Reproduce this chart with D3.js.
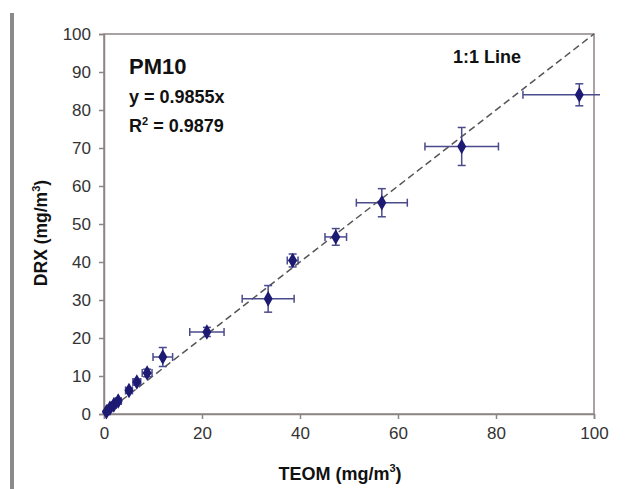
<!DOCTYPE html>
<html>
<head>
<meta charset="utf-8">
<script src="https://cdn.jsdelivr.net/npm/d3@7"></script>
<style>
  body { margin: 0; background: #fff; }
  text { font-family: "Liberation Sans", Arial, sans-serif; }
</style>
</head>
<body>
<svg id="chart"></svg>
<script>
// data (TEOM vs DRX, PM10)
const teom    = [0.5, 1.2, 2.0, 2.9, 5.1, 6.7, 8.8, 12.0, 21.0, 33.5, 38.5, 47.3, 56.7, 73.0, 97.0]
const drx     = [0.6, 1.5, 2.4, 3.4, 6.2, 8.4, 10.8, 15.0, 21.6, 30.3, 40.4, 46.6, 55.6, 70.4, 84.0]
const teomErr = [0.3, 0.4, 0.5, 0.6, 0.7, 0.8, 1.0, 2.0, 3.5, 5.3, 1.1, 2.2, 5.2, 7.5, 11.5]
const drxErr  = [0.3, 0.4, 0.5, 0.6, 0.7, 0.8, 1.0, 2.5, 1.2, 3.5, 1.7, 2.2, 3.7, 5.0, 2.9]
const ticks = [0, 10, 20, 30, 40, 50, 60, 70, 80, 90, 100]
const xTicks = [0, 20, 40, 60, 80, 100]

const width = 628, height = 489
const margin = {top: 34, bottom: 75, left: 104, right: 34}

const svg = d3.select('#chart')
  .attr('width', width)
  .attr('height', height)

// grey bar at the far left of the scan
svg.append('rect')
  .attr('x', 10).attr('y', 13)
  .attr('width', 4).attr('height', height - 13)
  .attr('fill', '#8a8a8a')

const xScale = d3.scaleLinear()
  .domain([0, 100])
  .range([margin.left, width - margin.right])
const yScale = d3.scaleLinear()
  .domain([0, 100])
  .range([height - margin.bottom, margin.top])

const axisColor = '#8c8584'

// frame
svg.append('rect')
  .attr('x', xScale(0)).attr('y', yScale(100))
  .attr('width', xScale(100) - xScale(0))
  .attr('height', yScale(0) - yScale(100))
  .attr('fill', 'none')
  .attr('stroke', axisColor)
  .attr('stroke-width', 1.5)

const xAxis = d3.axisBottom(xScale).tickValues(xTicks).tickSize(5).tickPadding(8)
const yAxis = d3.axisLeft(yScale).tickValues(ticks).tickSize(5).tickPadding(8)

const gx = svg.append('g')
  .attr('transform', `translate(0, ${yScale(0)})`)
  .call(xAxis)
const gy = svg.append('g')
  .attr('transform', `translate(${xScale(0)}, 0)`)
  .call(yAxis)

;[gx, gy].forEach(g => {
  g.select('.domain').attr('stroke', axisColor).attr('stroke-width', 1.5)
  g.selectAll('.tick line').attr('stroke', axisColor).attr('stroke-width', 1.5)
  g.selectAll('.tick text')
    .attr('fill', '#333')
    .style('font-size', '17px')
    .style('font-family', '"Liberation Sans", Arial, sans-serif')
})

// 1:1 line
svg.append('line')
  .attr('x1', xScale(0)).attr('y1', yScale(0))
  .attr('x2', xScale(100)).attr('y2', yScale(100))
  .attr('stroke', '#555')
  .attr('stroke-width', 1.5)
  .attr('stroke-dasharray', '7,4')

const pts = teom.map((t, i) => ({x: t, y: drx[i], ex: teomErr[i], ey: drxErr[i]}))

const errColor = '#4b4a8c'
const clipRight = 600
const cap = 4

const eb = svg.append('g')
pts.forEach(p => {
  const x0 = xScale(p.x - p.ex), x1 = xScale(p.x + p.ex)
  const y0 = yScale(p.y - p.ey), y1 = yScale(p.y + p.ey)
  const cx = xScale(p.x), cy = yScale(p.y)
  const xr = Math.min(x1, clipRight)
  eb.append('line').attr('x1', x0).attr('x2', xr).attr('y1', cy).attr('y2', cy)
  eb.append('line').attr('x1', cx).attr('x2', cx).attr('y1', y0).attr('y2', y1)
  eb.append('line').attr('x1', x0).attr('x2', x0).attr('y1', cy - cap).attr('y2', cy + cap)
  if (x1 <= clipRight)
    eb.append('line').attr('x1', x1).attr('x2', x1).attr('y1', cy - cap).attr('y2', cy + cap)
  eb.append('line').attr('x1', cx - cap).attr('x2', cx + cap).attr('y1', y0).attr('y2', y0)
  eb.append('line').attr('x1', cx - cap).attr('x2', cx + cap).attr('y1', y1).attr('y2', y1)
})
eb.selectAll('line').attr('stroke', errColor).attr('stroke-width', 1.5)

svg.append('g').selectAll('path')
  .data(pts)
  .enter().append('path')
    .attr('d', d3.symbol(d3.symbolDiamond, 70))
    .attr('transform', d => `translate(${xScale(d.x)}, ${yScale(d.y)})`)
    .attr('fill', '#1c1a72')

// annotations
svg.append('text')
  .attr('x', 129).attr('y', 74)
  .style('font-size', '22px').style('font-weight', 'bold')
  .attr('fill', '#111')
  .text('PM10')
svg.append('text')
  .attr('x', 129).attr('y', 103)
  .style('font-size', '18px').style('font-weight', 'bold')
  .attr('fill', '#111')
  .text('y = 0.9855x')
const r2 = svg.append('text')
  .attr('x', 129).attr('y', 132)
  .style('font-size', '18px').style('font-weight', 'bold')
  .attr('fill', '#111')
r2.append('tspan').text('R')
r2.append('tspan').attr('dy', -7).style('font-size', '11px').text('2')
r2.append('tspan').attr('dy', 7).text(' = 0.9879')

svg.append('text')
  .attr('x', 453).attr('y', 63)
  .style('font-size', '18px').style('font-weight', 'bold')
  .attr('fill', '#111')
  .text('1:1 Line')

// axis titles
const xt = svg.append('text')
  .attr('x', 340).attr('y', 480)
  .attr('text-anchor', 'middle')
  .style('font-size', '18px').style('font-weight', 'bold')
  .attr('fill', '#111')
xt.append('tspan').text('TEOM (mg/m')
xt.append('tspan').attr('dy', -8).style('font-size', '11px').text('3')
xt.append('tspan').attr('dy', 8).text(')')

const yt = svg.append('text')
  .attr('transform', 'translate(47, 233) rotate(-90)')
  .attr('text-anchor', 'middle')
  .style('font-size', '17.5px').style('font-weight', 'bold')
  .attr('fill', '#111')
yt.append('tspan').text('DRX (mg/m')
yt.append('tspan').attr('dy', -7).style('font-size', '11px').text('3')
yt.append('tspan').attr('dy', 7).text(')')
</script>
</body>
</html>
